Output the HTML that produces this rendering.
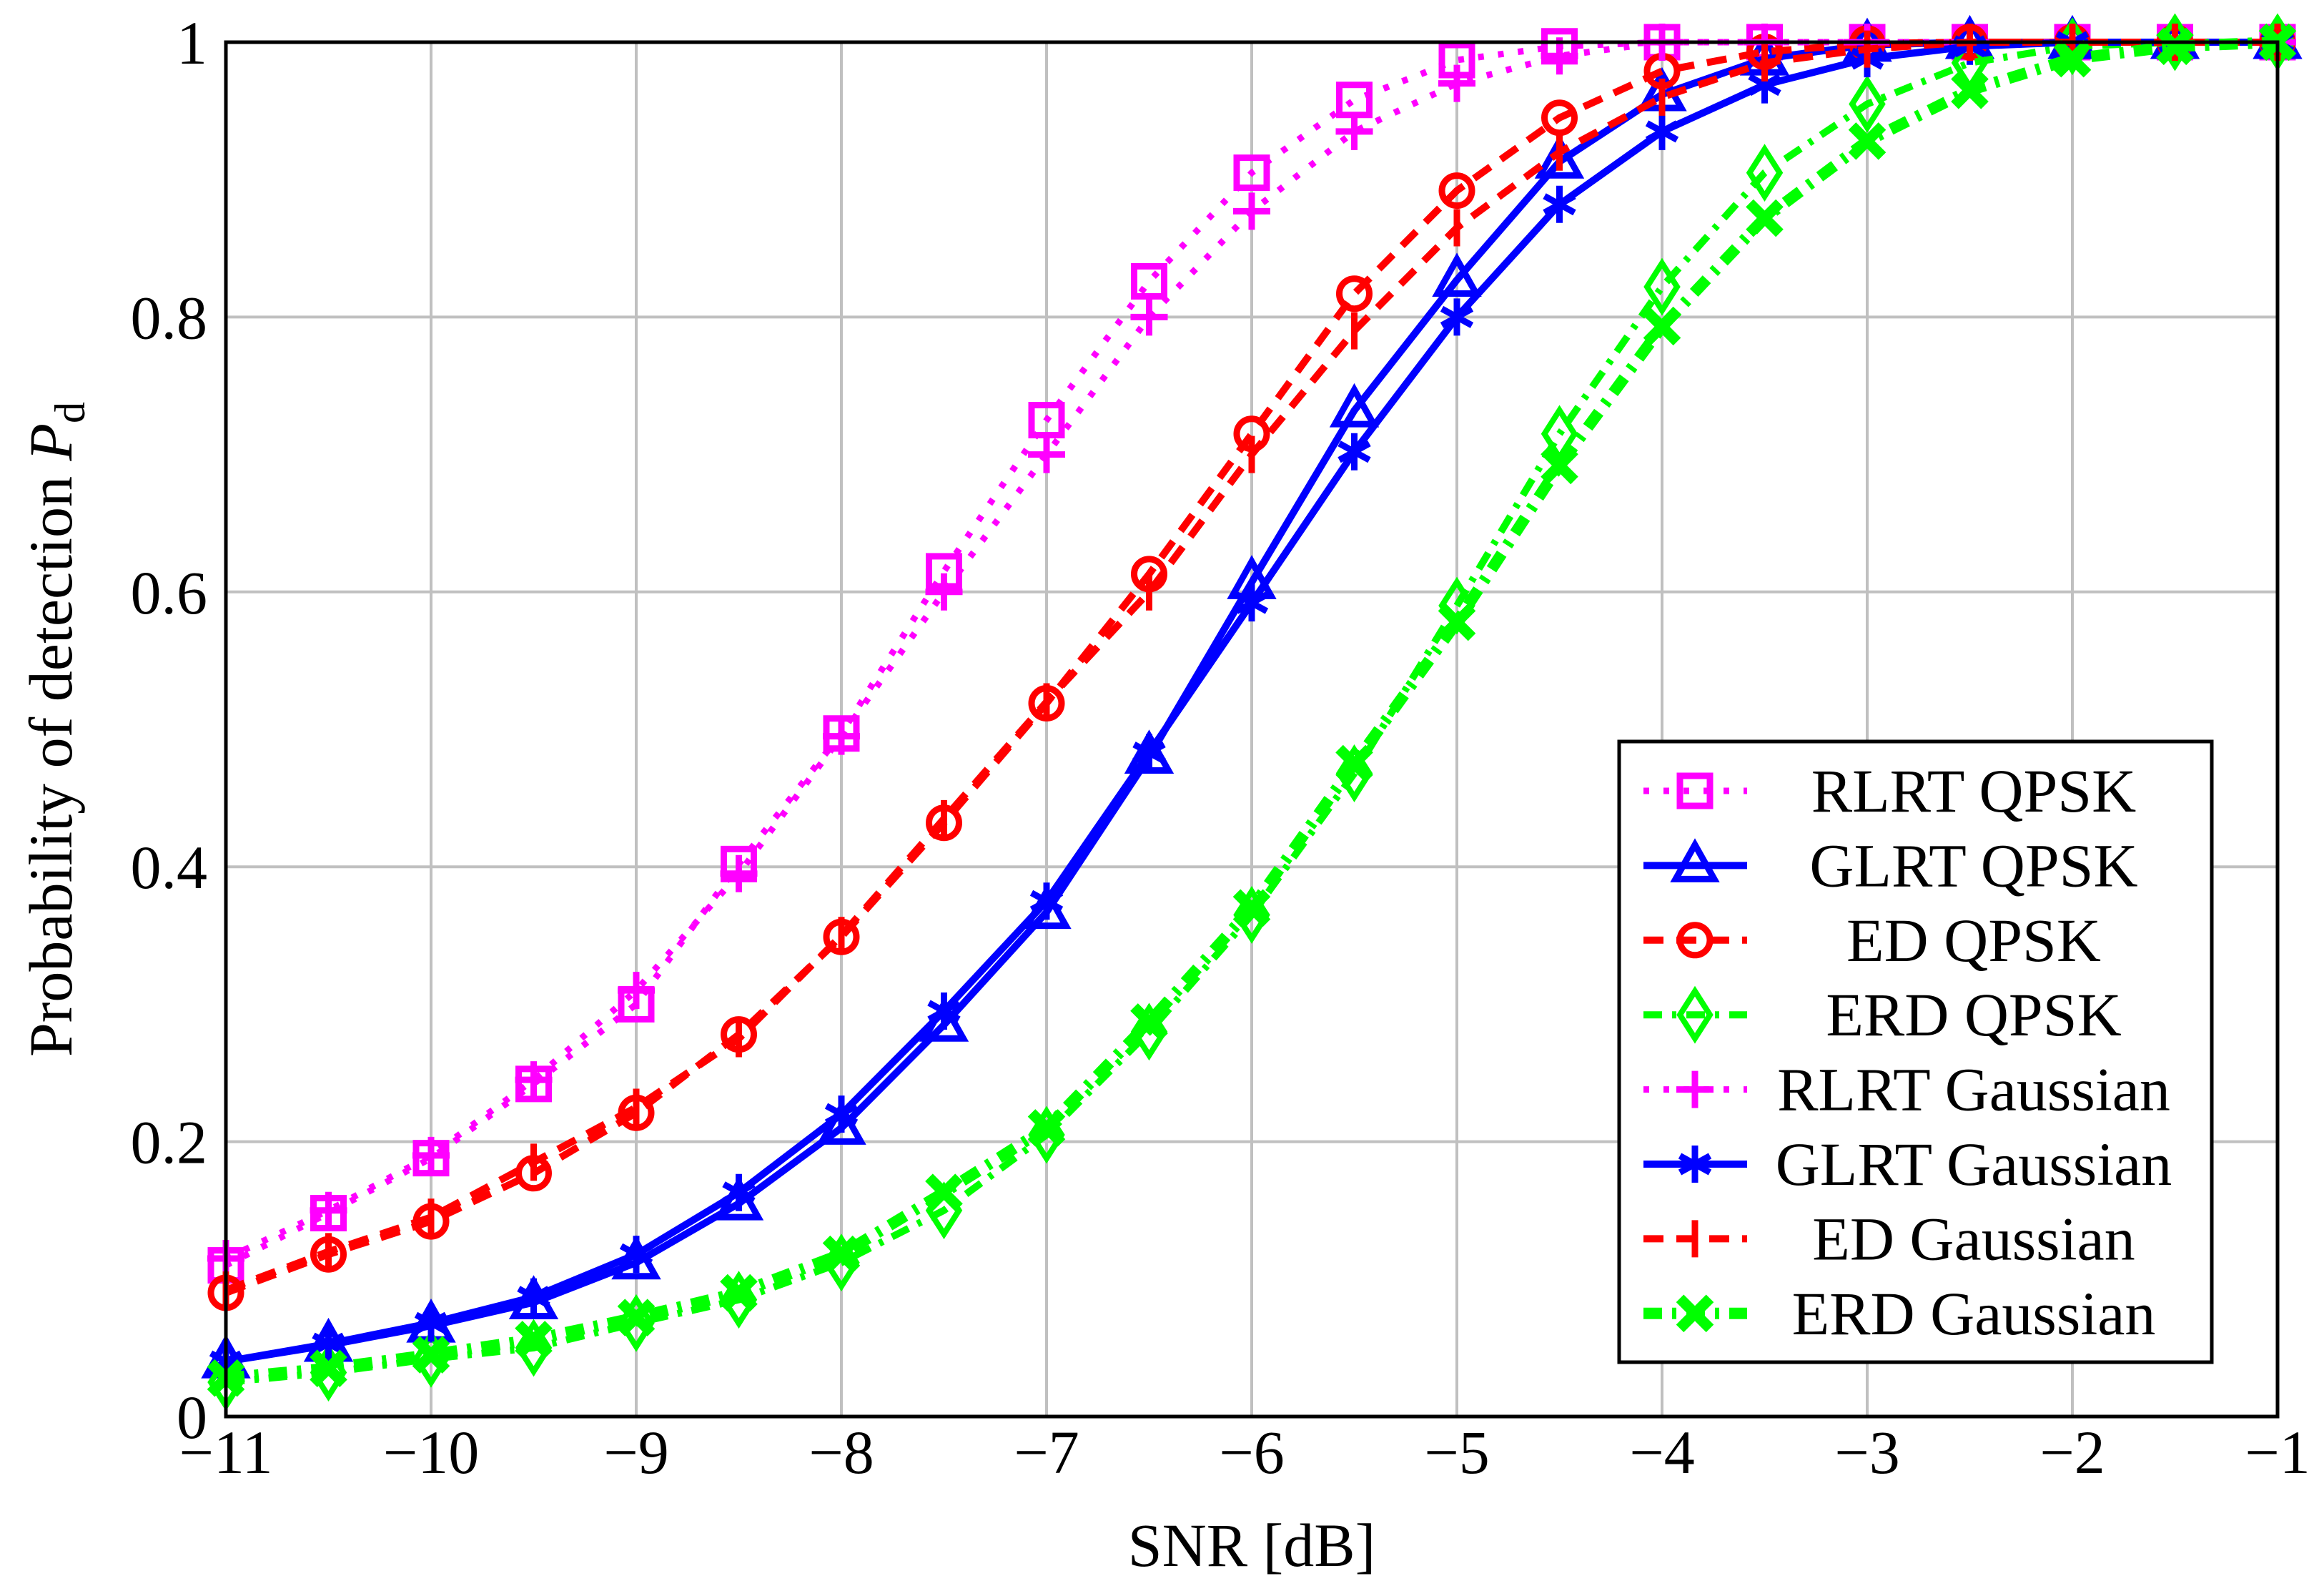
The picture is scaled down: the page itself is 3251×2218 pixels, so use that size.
<!DOCTYPE html>
<html><head><meta charset="utf-8"><style>
html,body{margin:0;padding:0;background:#fff}
svg{display:block}
text{font-family:"Liberation Serif",serif;fill:#000}
</style></head><body>
<svg id="chart" width="3251" height="2218" viewBox="0 0 3251 2218" xmlns="http://www.w3.org/2000/svg">
<g id="grid"></g>
<g id="series"></g>
<rect x="316" y="59" width="2870" height="1922" fill="none" stroke="#000" stroke-width="5"/>
<g id="ticks"></g>
<text x="1751" y="2190" font-size="86" text-anchor="middle">SNR [dB]</text>
<text transform="translate(100,1020) rotate(-90)" font-size="86" text-anchor="middle">Probability of detection <tspan font-style="italic">P</tspan><tspan font-size="60" dy="18">d</tspan></text>
<g id="legend">
<rect x="2265" y="1037" width="829" height="868" fill="#fff" stroke="#000" stroke-width="5"/>
</g>
</svg>
<script>
const snr = [-11,-10.5,-10,-9.5,-9,-8.5,-8,-7.5,-7,-6.5,-6,-5.5,-5,-4.5,-4,-3.5,-3,-2.5,-2,-1.5,-1];
const xTicks = [-11,-10,-9,-8,-7,-6,-5,-4,-3,-2,-1];
const yTicks = [0,0.2,0.4,0.6,0.8,1];
const yTickLabels = ["0","0.2","0.4","0.6","0.8","1"];
const rlrtQpsk = [.11,.148,.188,.242,.30,.402,.497,.615,.725,.826,.905,.958,.987,.997,1,1,1,1,1,1,1];
const glrtQpsk = [.04,.052,.066,.083,.112,.155,.21,.285,.367,.48,.607,.732,.827,.913,.962,.988,.998,1,1,1,1];
const edQpsk = [.09,.118,.142,.177,.221,.278,.349,.432,.519,.613,.715,.817,.892,.945,.979,.993,.999,1,1,1,1];
const erdQpsk = [.025,.032,.042,.05,.068,.085,.112,.15,.205,.28,.365,.468,.59,.715,.822,.905,.955,.985,.997,1,1];
const rlrtGauss = [.115,.15,.19,.245,.31,.395,.495,.60,.70,.80,.877,.935,.97,.99,1,1,1,1,1,1,1];
const glrtGauss = [.04,.053,.068,.087,.118,.163,.22,.295,.375,.483,.592,.702,.8,.882,.935,.969,.988,.997,1,1,1];
const edGauss = [.092,.12,.145,.185,.225,.275,.35,.435,.52,.60,.70,.79,.865,.92,.96,.985,.995,1,1,1,1];
const erdGauss = [.028,.035,.045,.056,.072,.09,.118,.163,.21,.287,.37,.475,.578,.692,.793,.872,.928,.965,.988,.997,1];
const seriesNames = ["RLRT QPSK","GLRT QPSK","ED QPSK","ERD QPSK","RLRT Gaussian","GLRT Gaussian","ED Gaussian","ERD Gaussian"];

const NS="http://www.w3.org/2000/svg";
const X0=316,X1=3186,Y0=1981,Y1=59;
function sx(v){return X0+(v+11)/10*(X1-X0);}
function sy(v){return Y0-v*(Y0-Y1);}
function mk(tag,attrs,parent){const e=document.createElementNS(NS,tag);for(const k in attrs)e.setAttribute(k,attrs[k]);parent.appendChild(e);return e;}
const grid=document.getElementById('grid'),ticks=document.getElementById('ticks'),ser=document.getElementById('series'),leg=document.getElementById('legend');
xTicks.forEach(t=>{
  const l=mk('line',{x1:sx(t),x2:sx(t),y1:Y1,y2:Y0,stroke:'#c0c0c0','stroke-width':4},grid);
  
  
  const tx=mk('text',{x:sx(t),y:2060,'font-size':86,'text-anchor':'middle'},ticks);
  tx.textContent=(t<0?'\u2212':'')+Math.abs(t);
  
  
});
yTicks.forEach((t,i)=>{
  const l=mk('line',{x1:X0,x2:X1,y1:sy(t),y2:sy(t),stroke:'#c0c0c0','stroke-width':4},grid);
  
  
  const tx=mk('text',{x:290,y:sy(t)+30,'font-size':86,'text-anchor':'end'},ticks);
  tx.textContent=yTickLabels[i];
  
  
});
const styles=[
 {data:rlrtQpsk,color:'#ff00ff',dash:'8 20',w:9,marker:'square'},
 {data:glrtQpsk,color:'#0000ff',dash:'',w:10,marker:'triangle'},
 {data:edQpsk,color:'#ff0000',dash:'28 18',w:10,marker:'circle'},
 {data:erdQpsk,color:'#00ff00',dash:'26 14 6 14',w:10,marker:'diamond'},
 {data:rlrtGauss,color:'#ff00ff',dash:'8 20',w:9,marker:'plus'},
 {data:glrtGauss,color:'#0000ff',dash:'',w:10,marker:'star'},
 {data:edGauss,color:'#ff0000',dash:'28 18',w:10,marker:'vbar'},
 {data:erdGauss,color:'#00ff00',dash:'26 14 6 14',w:16,marker:'cross'}
];
function marker(type,x,y,c,g){
  const r=21;let e;
  if(type==='square')e=mk('rect',{x:x-r,y:y-r,width:2*r,height:2*r,fill:'none',stroke:c,'stroke-width':9},g);
  else if(type==='triangle')e=mk('polygon',{points:`${x},${y-r-8} ${x-r-6},${y+r-2} ${x+r+6},${y+r-2}`,fill:'none',stroke:c,'stroke-width':9},g);
  else if(type==='circle')e=mk('circle',{cx:x,cy:y,r:r,fill:'none',stroke:c,'stroke-width':9},g);
  else if(type==='diamond')e=mk('polygon',{points:`${x},${y-r-12} ${x+r},${y} ${x},${y+r+12} ${x-r},${y}`,fill:'none',stroke:c,'stroke-width':8},g);
  else if(type==='plus')e=mk('path',{d:`M${x-r-5},${y}H${x+r+5}M${x},${y-r-5}V${y+r+5}`,stroke:c,'stroke-width':9},g);
  else if(type==='star')e=mk('path',{d:`M${x},${y-r-5}V${y+r+5}M${x-r},${y-r*0.55}L${x+r},${y+r*0.55}M${x-r},${y+r*0.55}L${x+r},${y-r*0.55}`,stroke:c,'stroke-width':9},g);
  else if(type==='vbar')e=mk('path',{d:`M${x},${y-r-5}V${y+r+5}`,stroke:c,'stroke-width':9},g);
  else e=mk('path',{d:`M${x-r},${y-r}L${x+r},${y+r}M${x-r},${y+r}L${x+r},${y-r}`,stroke:c,'stroke-width':15},g);
  
  
}
styles.forEach((s,i)=>{
  const g=mk('g',{},ser);
  
  
  const pts=snr.map((v,j)=>sx(v)+','+sy(s.data[j])).join(' ');
  const pl=mk('polyline',{points:pts,fill:'none',stroke:s.color,'stroke-width':s.w,'stroke-dasharray':s.dash,'stroke-linejoin':'round'},g);
  
  
  snr.forEach((v,j)=>marker(s.marker,sx(v),sy(s.data[j]),s.color,g));
  const ly=1106+i*104.4;
  const lg=mk('g',{},leg);
  
  
  const ll=mk('line',{x1:2299,x2:2444,y1:ly,y2:ly,stroke:s.color,'stroke-width':s.w,'stroke-dasharray':s.dash},lg);
  
  
  marker(s.marker,2371,ly,s.color,lg);
  const t=mk('text',{x:2761,y:ly+29,'font-size':86,'text-anchor':'middle'},lg);
  t.textContent=seriesNames[i];
  
  
});
</script>
</body></html>
